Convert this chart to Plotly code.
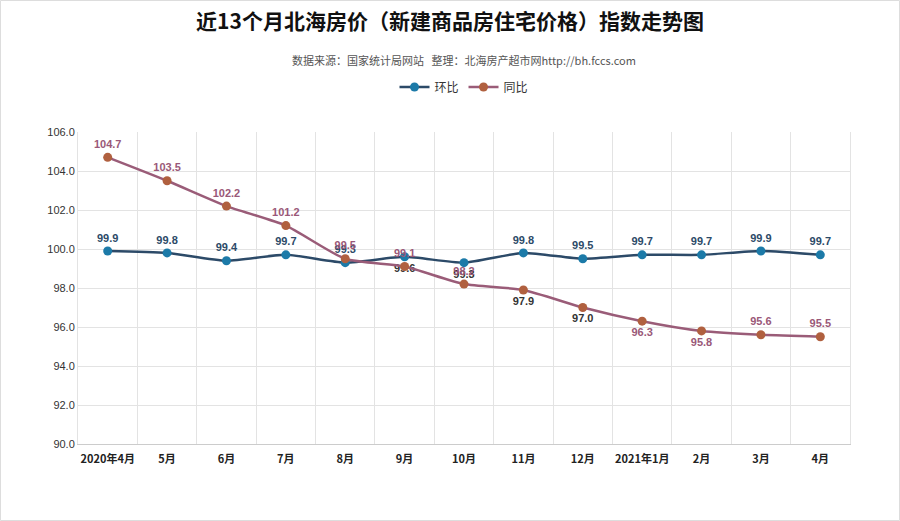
import plotly.graph_objects as go

months = ["2020年4月", "5月", "6月", "7月", "8月", "9月", "10月", "11月", "12月",
          "2021年1月", "2月", "3月", "4月"]
huanbi = [99.9, 99.8, 99.4, 99.7, 99.3, 99.6, 99.3, 99.8, 99.5, 99.7, 99.7, 99.9, 99.7]
tongbi = [104.7, 103.5, 102.2, 101.2, 99.5, 99.1, 98.2, 97.9, 97.0, 96.3, 95.8, 95.6, 95.5]
y_ticks = [90, 92, 94, 96, 98, 100, 102, 104, 106]

# label styling
hb_pos = ["top center"] * 5 + ["bottom center", "bottom center"] + ["top center"] * 6
tb_pos = ["top center"] * 7 + ["bottom center"] * 4 + ["top center"] * 2
hb_col = "#2c4a68"
tb_col = "#9a5878"
hb_text_col = [hb_col] * 5 + ["#333333", "#333333"] + [hb_col] * 6
tb_text_col = [tb_col] * 7 + ["#333333", "#333333"] + [tb_col] * 4

CJK = "Noto Sans CJK SC, Microsoft YaHei, sans-serif"
LAT = "Arial, Liberation Sans, sans-serif"

fig = go.Figure()
fig.add_trace(go.Scatter(
    x=months, y=huanbi, name="环比", mode="lines+markers+text",
    line=dict(color="#2c4a68", width=2.5, shape="spline", smoothing=0.6),
    marker=dict(color="#1c7aa8", size=9),
    text=[f"<b>{v:.1f}</b>" for v in huanbi], textposition=hb_pos,
    textfont=dict(color=hb_text_col, size=11, family=LAT),
    cliponaxis=False,
))
fig.add_trace(go.Scatter(
    x=months, y=tongbi, name="同比", mode="lines+markers+text",
    line=dict(color="#9a5c78", width=2.5, shape="spline", smoothing=0.6),
    marker=dict(color="#b0603f", size=9),
    text=[f"<b>{v:.1f}</b>" for v in tongbi], textposition=tb_pos,
    textfont=dict(color=tb_text_col, size=11, family=LAT),
    cliponaxis=False,
))

fig.update_layout(
    width=900, height=521,
    paper_bgcolor="white", plot_bgcolor="white",
    margin=dict(l=78, r=50, t=132, b=77),
    title=dict(text="<b>近13个月北海房价（新建商品房住宅价格）指数走势图</b>",
               x=0.5, xanchor="center", y=1 - 22/521, yanchor="middle",
               font=dict(family=CJK, size=21, color="#111111")),
    annotations=[dict(text="数据来源：国家统计局网站   整理：北海房产超市网http://bh.fccs.com",
                      xref="paper", yref="paper", x=0.5, y=1.0, yshift=72,
                      xanchor="center", yanchor="middle", showarrow=False,
                      font=dict(family=CJK, size=11, color="#555555"))],
    legend=dict(orientation="h", x=0.5, xanchor="center", y=1 + 45/312, yanchor="middle",
                font=dict(family=CJK, size=12, color="#333333"),
                bgcolor="rgba(0,0,0,0)"),
    showlegend=True,
    shapes=[dict(type="rect", xref="paper", yref="paper", x0=-77.5/772, x1=1+49.5/772,
                 y0=-76.5/312, y1=1+131.5/312, line=dict(color="#dddddd", width=1))],
)
fig.update_xaxes(type="category", tickson="boundaries", showgrid=True, gridcolor="#e3e3e3",
                 showline=True, linecolor="#cccccc", ticks="", range=[-0.5, 12.5],
                 tickangle=0, automargin=False, ticklabelstandoff=5,
                 tickfont=dict(family=CJK, size=11, color="#222222"),
                 tickprefix="<b>", ticksuffix="</b>")
fig.update_yaxes(range=[90, 106], tickvals=y_ticks, ticktext=[f"{v:.1f}" for v in y_ticks],
                 showgrid=True, gridcolor="#e3e3e3", zeroline=False, automargin=False,
                 showline=True, linecolor="#e3e3e3", mirror=True,
                 tickfont=dict(family=LAT, size=11, color="#333333"))
fig.write_html("out.html", config={"displayModeBar": False},
               post_script="document.body.style.margin='0';document.body.style.overflow='hidden';")
